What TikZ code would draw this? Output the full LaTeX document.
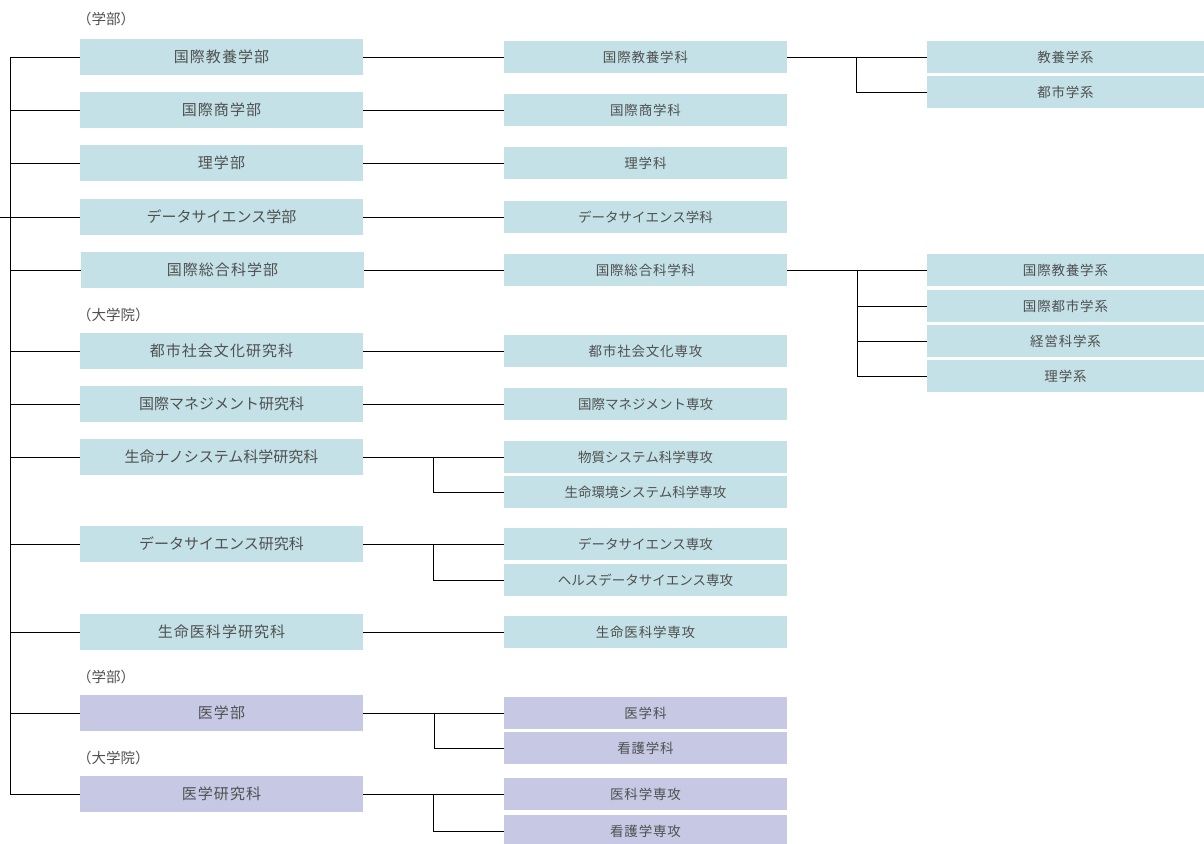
\documentclass[tikz,border=0pt]{standalone}
\usepackage{fontspec}
\setmainfont{Noto Sans CJK JP}
\newfontfamily\lfont[LetterSpace=7]{Noto Sans CJK JP}
\newfontfamily\mfont[LetterSpace=6]{Noto Sans CJK JP}
\newfontfamily\kfont{Noto Sans CJK JP}
\usetikzlibrary{calc}
\definecolor{bluebox}{RGB}{195,225,230}
\definecolor{purplebox}{RGB}{198,200,228}
\definecolor{txt}{RGB}{80,80,80}
\begin{document}
\begin{tikzpicture}[x=1pt,y=-1pt,
  lbox/.style={fill=bluebox,minimum width=283pt,minimum height=36pt,inner sep=0pt,text=txt,font=\lfont\fontsize{15}{17}\selectfont},
  mbox/.style={fill=bluebox,minimum width=283pt,minimum height=32pt,inner sep=0pt,text=txt,font=\mfont\fontsize{13.5}{15}\selectfont},
  rbox/.style={fill=bluebox,minimum width=277pt,minimum height=32pt,inner sep=0pt,text=txt,font=\mfont\fontsize{13.5}{15}\selectfont},
  lkana/.style={font=\kfont\fontsize{15}{17}\selectfont},
  mkana/.style={font=\kfont\fontsize{13.5}{15}\selectfont},
  purp/.style={fill=purplebox},
  captxt/.style={anchor=west,inner sep=0pt,text=txt,font=\fontsize{14.5}{16}\selectfont},
  conn/.style={draw=black,line width=0.9pt}]
\clip (0,0) rectangle (1204,843);
\useasboundingbox (0,0) rectangle (1204,843);
% captions
\node[captxt] (cap1) at (77,19) {（学部）};
\node[captxt] (cap2) at (77,315) {（大学院）};
\node[captxt] (cap3) at (77,677) {（学部）};
\node[captxt] (cap4) at (77,758) {（大学院）};
% left column
\node[lbox] (L1) at (221.5,57) {国際教養学部};
\node[lbox] (L2) at (221.5,110) {国際商学部};
\node[lbox] (L3) at (221.5,163) {理学部};
\node[lbox,lkana] (L4) at (221.5,217) {データサイエンス学部};
\node[lbox] (L5) at (222.5,270) {国際総合科学部};
\node[lbox] (L6) at (221.5,351) {都市社会文化研究科};
\node[lbox,lkana] (L7) at (221.5,404) {国際マネジメント研究科};
\node[lbox,lkana] (L8) at (221.5,457) {生命ナノシステム科学研究科};
\node[lbox,lkana] (L9) at (221.5,544) {データサイエンス研究科};
\node[lbox] (L10) at (221.5,632) {生命医科学研究科};
\node[lbox,purp] (L11) at (221.5,713) {医学部};
\node[lbox,purp] (L12) at (221.5,794) {医学研究科};
% middle column
\node[mbox] (M1) at (645.5,57) {国際教養学科};
\node[mbox] (M2) at (645.5,110) {国際商学科};
\node[mbox] (M3) at (645.5,163) {理学科};
\node[mbox,mkana] (M4) at (645.5,217) {データサイエンス学科};
\node[mbox] (M5) at (645.5,270) {国際総合科学科};
\node[mbox] (M6) at (645.5,351) {都市社会文化専攻};
\node[mbox,mkana] (M7) at (645.5,404) {国際マネジメント専攻};
\node[mbox,mkana] (M8) at (645.5,457) {物質システム科学専攻};
\node[mbox,mkana] (M9) at (645.5,492) {生命環境システム科学専攻};
\node[mbox,mkana] (M10) at (645.5,544) {データサイエンス専攻};
\node[mbox,mkana] (M11) at (645.5,580) {ヘルスデータサイエンス専攻};
\node[mbox] (M12) at (645.5,632) {生命医科学専攻};
\node[mbox,purp] (M13) at (645.5,713) {医学科};
\node[mbox,purp] (M14) at (645.5,748) {看護学科};
\node[mbox,purp] (M15) at (645.5,794) {医科学専攻};
\node[mbox,purp] (M16) at (645.5,831) {看護学専攻};
% right column
\node[rbox] (R1) at (1065.5,57) {教養学系};
\node[rbox] (R2) at (1065.5,92) {都市学系};
\node[rbox] (R3) at (1065.5,270) {国際教養学系};
\node[rbox] (R4) at (1065.5,306) {国際都市学系};
\node[rbox] (R5) at (1065.5,341) {経営科学系};
\node[rbox] (R6) at (1065.5,376) {理学系};
% trunk
\coordinate (ttop) at (10,57);
\coordinate (tbot) at (10,794);
\coordinate (tin) at (0,217);
\draw[conn] (ttop) -- (tbot);
\draw[conn] (tin) -- (L4.west);
\foreach \n in {1,2,3,5,6,7,8,9,10,11,12}{
  \draw[conn] (ttop |- L\n.west) -- (L\n.west);
}
% left to middle
\foreach \a/\b in {1/1,2/2,3/3,4/4,5/5,6/6,7/7,8/8,9/10,10/12,11/13,12/15}{
  \draw[conn] (L\a.east) -- (M\b.west);
}
% middle branches
\coordinate (b8) at (433.5,457);
\draw[conn] (b8) |- (M9.west);
\coordinate (b9) at (433.5,544);
\draw[conn] (b9) |- (M11.west);
\coordinate (b11) at (434,713);
\draw[conn] (b11) |- (M14.west);
\coordinate (b12) at (433.5,794);
\draw[conn] (b12) |- (M16.west);
% right branches
\draw[conn] (M1.east) -- (R1.west);
\coordinate (r1) at (856.5,57);
\draw[conn] (r1) |- (R2.west);
\draw[conn] (M5.east) -- (R3.west);
\coordinate (r5) at (857.5,270);
\draw[conn] (r5) |- (R6.west);
\draw[conn] (r5 |- R4.west) -- (R4.west);
\draw[conn] (r5 |- R5.west) -- (R5.west);
\end{tikzpicture}
\end{document}
